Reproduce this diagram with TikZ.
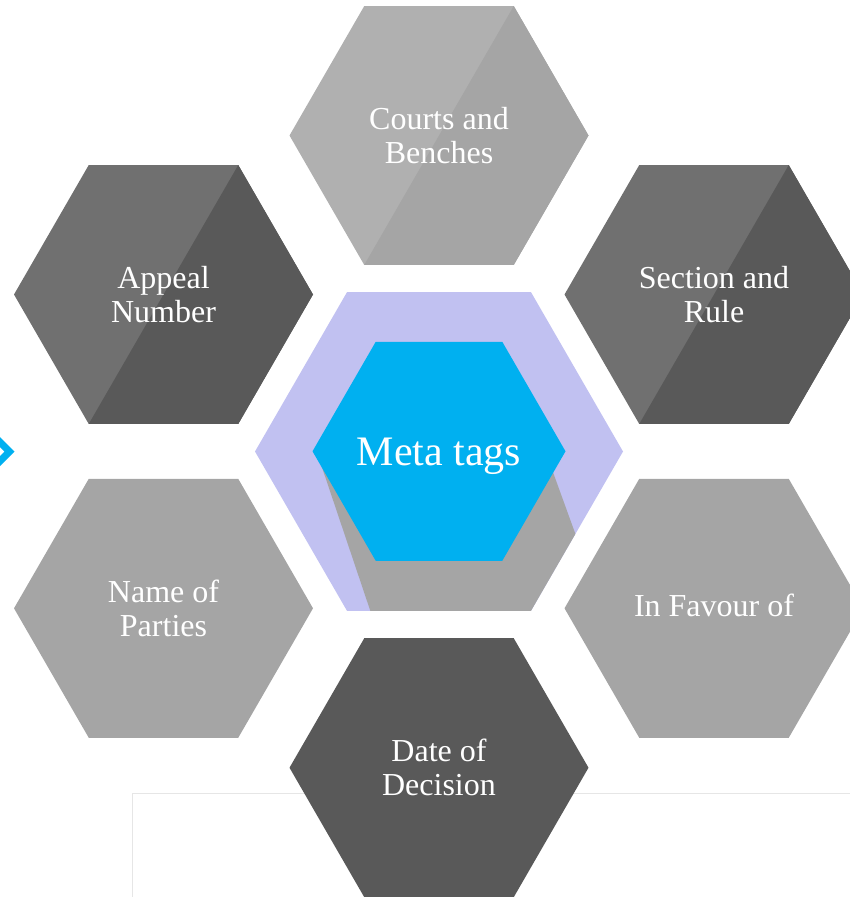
\documentclass[tikz,border=0pt]{standalone}
\usepackage{fontspec}
\setmainfont{Liberation Serif}
\definecolor{lav}{HTML}{C1C1F1}
\definecolor{cyanblue}{HTML}{00B0F0}
\definecolor{midgray}{HTML}{A5A5A5}
\definecolor{lightgray2}{HTML}{B0B0B0}
\definecolor{darkgray2}{HTML}{595959}
\definecolor{darklight}{HTML}{707070}
\definecolor{boxline}{HTML}{E6E6E6}
\newcommand\hexagon[3]{(#1+#3,#2) -- (#1+#3/2,#2-0.8660*#3) -- (#1-#3/2,#2-0.8660*#3) -- (#1-#3,#2) -- (#1-#3/2,#2+0.8660*#3) -- (#1+#3/2,#2+0.8660*#3) -- cycle}
\newcommand\hexright[3]{(#1+#3/2,#2-0.8660*#3) -- (#1+#3,#2) -- (#1+#3/2,#2+0.8660*#3) -- (#1-#3/2,#2+0.8660*#3) -- cycle}
\tikzset{
  lbl/.style={text=white, align=center, font=\fontsize{32}{34}\selectfont, inner sep=0pt},
  biglbl/.style={text=white, align=center, font=\fontsize{42}{44}\selectfont, inner sep=0pt}
}
\begin{document}
\begin{tikzpicture}[x=1pt,y=-1pt]
\useasboundingbox (0,0) rectangle (850,897);
% faint box at the bottom
\draw[boxline, line width=1.5pt] (132.5,897) -- (132.5,793.5) -- (851,793.5);
% blue chevron at left edge
\fill[cyanblue] (0,437) -- (14.5,451.5) -- (0,466) -- (0,456) -- (4.5,451.5) -- (0,447) -- cycle;
% outer hexagons
\fill[lightgray2] \hexagon{439}{135.5}{149.5};
\fill[midgray] \hexright{439}{135.5}{149.5};
\fill[darklight] \hexagon{163.5}{294.5}{149.5};
\fill[darkgray2] \hexright{163.5}{294.5}{149.5};
\fill[darklight] \hexagon{714}{294.5}{149.5};
\fill[darkgray2] \hexright{714}{294.5}{149.5};
\fill[midgray] \hexagon{163.5}{608.3}{149.5};
\fill[midgray] \hexagon{714}{608.3}{149.5};
\fill[darkgray2] \hexagon{439}{767.7}{149.5};
% centre
\fill[lav] \hexagon{439}{451.5}{184};
\begin{scope}
  \clip \hexagon{439}{451.5}{184};
  \fill[midgray] (316.5,451) -- (545.3,451) -- (603.7,612) -- (370.7,612) -- cycle;
\end{scope}
\fill[cyanblue] \hexagon{439}{451.3}{126.5};
% labels
\node[lbl] (courts) at (439,135.5) {Courts and\\Benches};
\node[lbl] (appeal) at (163.5,294.5) {Appeal\\Number};
\node[lbl] (section) at (714,294.5) {Section and\\Rule};
\node[lbl] (parties) at (163.5,608.3) {Name of\\Parties};
\node[lbl, anchor=base] (favour) at (714,616.5) {In Favour of};
\node[lbl] (decision) at (439,767.7) {Date of\\Decision};
\node[biglbl, anchor=base] (meta) at (439,465) {Meta tags};
\end{tikzpicture}
\end{document}
